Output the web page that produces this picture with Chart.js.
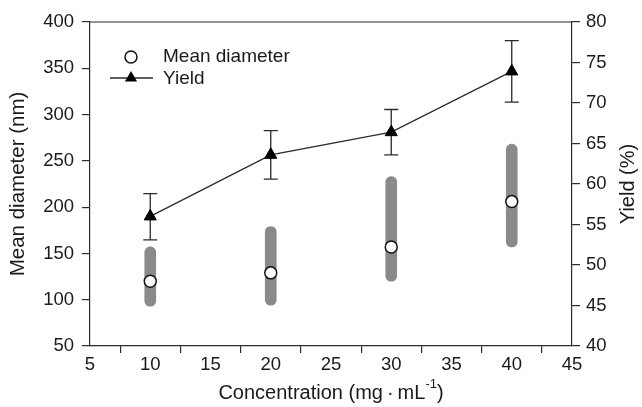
<!DOCTYPE html>
<html>
<head>
<meta charset="utf-8">
<script src="https://cdn.jsdelivr.net/npm/chart.js@4/dist/chart.umd.min.js"></script>
<style>
  html, body { margin: 0; padding: 0; background: #fff; }
  #wrap { width: 642px; height: 407px; position: relative; }
</style>
</head>
<body>
<div id="wrap"><canvas id="chart"></canvas></div>
<script>
// concentration (mg/mL) and the two measured series
const concentration = [10, 20, 30, 40];
const meanDiameter = [120, 129, 157, 206];
const diameterLow = [93, 94, 120, 157];
const diameterHigh = [157, 179, 233, 268];
const yieldPct = [56.0, 63.6, 66.4, 73.9];
const yieldLow = [53.1, 60.6, 63.6, 70.1];
const yieldHigh = [58.8, 66.6, 69.2, 77.7];

const xRange = [5, 45];
const diameterRange = [50, 400];
const yieldRange = [40, 80];

const FONT = '"Liberation Sans", Arial, sans-serif';
const INK = '#1a1a1a';
const AXIS = '#2b2b2b';

// black error bars with caps for the yield series + frame top + titles + legend
const extras = {
  id: 'extras',
  beforeDatasetsDraw(chart) {
    const ctx = chart.ctx;
    const xs = chart.scales.x, ys = chart.scales.y1;
    ctx.save();
    ctx.strokeStyle = AXIS;
    ctx.lineWidth = 1.3;
    concentration.forEach((c, i) => {
      const px = xs.getPixelForValue(c);
      const top = ys.getPixelForValue(yieldHigh[i]);
      const bot = ys.getPixelForValue(yieldLow[i]);
      ctx.beginPath();
      ctx.moveTo(px, top); ctx.lineTo(px, bot);
      ctx.moveTo(px - 7, top); ctx.lineTo(px + 7, top);
      ctx.moveTo(px - 7, bot); ctx.lineTo(px + 7, bot);
      ctx.stroke();
    });
    ctx.restore();
  },
  afterDraw(chart) {
    const ctx = chart.ctx;
    const a = chart.chartArea;
    ctx.save();
    // top frame line
    ctx.strokeStyle = AXIS;
    ctx.lineWidth = 1.2;
    ctx.beginPath();
    ctx.moveTo(a.left, a.top); ctx.lineTo(a.right, a.top);
    ctx.stroke();

    ctx.fillStyle = INK;
    ctx.textBaseline = 'middle';

    // right axis title, reads bottom to top
    ctx.save();
    ctx.font = '20px ' + FONT;
    ctx.translate(628, (a.top + a.bottom) / 2);
    ctx.rotate(-Math.PI / 2);
    ctx.textAlign = 'center';
    ctx.fillText('Yield (%)', 0, 0);
    ctx.restore();

    // x axis title with superscript
    const main = 'Concentration (mg\u2009\u00b7\u2009mL';
    const sup = '-1';
    const tail = ')';
    ctx.font = '20px ' + FONT;
    const w1 = ctx.measureText(main).width;
    const w3 = ctx.measureText(tail).width;
    ctx.font = '13px ' + FONT;
    const w2 = ctx.measureText(sup).width;
    const x0 = (a.left + a.right) / 2 - (w1 + w2 + w3) / 2;
    const ty = 393;
    ctx.textAlign = 'left';
    ctx.font = '20px ' + FONT;
    ctx.fillText(main, x0, ty);
    ctx.font = '13px ' + FONT;
    ctx.fillText(sup, x0 + w1, ty - 9);
    ctx.font = '20px ' + FONT;
    ctx.fillText(tail, x0 + w1 + w2, ty);

    // legend
    ctx.font = '19px ' + FONT;
    ctx.fillText('Mean diameter', 163, 57);
    ctx.fillText('Yield', 163, 79);
    ctx.beginPath();
    ctx.arc(131, 57, 6, 0, Math.PI * 2);
    ctx.fillStyle = '#fff';
    ctx.fill();
    ctx.strokeStyle = '#111';
    ctx.lineWidth = 1.5;
    ctx.stroke();
    ctx.strokeStyle = AXIS;
    ctx.lineWidth = 1.3;
    ctx.beginPath();
    ctx.moveTo(110, 78); ctx.lineTo(153, 78);
    ctx.stroke();
    const r = 7;
    ctx.beginPath();
    ctx.moveTo(131, 78 - r);
    ctx.lineTo(131 + 0.866 * r, 78 + 0.5 * r);
    ctx.lineTo(131 - 0.866 * r, 78 + 0.5 * r);
    ctx.closePath();
    ctx.fillStyle = '#000';
    ctx.fill();
    ctx.restore();
  }
};

const tickFont = { family: FONT, size: 18.5 };

new Chart(document.getElementById('chart'), {
  type: 'line',
  data: {
    datasets: [
      {
        label: 'Yield',
        type: 'line',
        yAxisID: 'y1',
        data: concentration.map((c, i) => ({ x: c, y: yieldPct[i] })),
        borderColor: AXIS,
        borderWidth: 1.3,
        pointStyle: 'triangle',
        pointRadius: 7,
        pointBackgroundColor: '#000',
        pointBorderColor: '#000',
        pointBorderWidth: 1,
        order: 1
      },
      {
        label: 'Mean diameter',
        type: 'line',
        yAxisID: 'y',
        showLine: false,
        data: concentration.map((c, i) => ({ x: c, y: meanDiameter[i] })),
        pointStyle: 'circle',
        pointRadius: 6,
        pointBackgroundColor: '#fff',
        pointBorderColor: '#111',
        pointBorderWidth: 1.5,
        order: 0
      },
      {
        label: 'Range',
        type: 'bar',
        yAxisID: 'y',
        data: concentration.map((c, i) => ({ x: c, y: [diameterLow[i], diameterHigh[i]] })),
        backgroundColor: '#8a8a8a',
        barThickness: 11,
        borderRadius: 5.5,
        borderSkipped: false,
        order: 5
      }
    ]
  },
  options: {
    responsive: true,
    maintainAspectRatio: false,
    animation: false,
    layout: { padding: { top: 22, left: 0, right: 0, bottom: 0 } },
    plugins: { legend: { display: false }, tooltip: { enabled: false } },
    scales: {
      x: {
        type: 'linear',
        offset: false,
        min: xRange[0], max: xRange[1],
        ticks: { stepSize: 5, color: INK, font: tickFont, padding: 1, maxRotation: 0 },
        grid: { drawOnChartArea: false, tickLength: 7, color: AXIS, lineWidth: 1.2 },
        border: { color: AXIS, width: 1.2 },
        afterFit(s) { s.height = 61; }
      },
      y: {
        position: 'left',
        min: diameterRange[0], max: diameterRange[1],
        ticks: { stepSize: 50, color: INK, font: tickFont, padding: 8 },
        grid: { drawOnChartArea: false, tickLength: 8, color: AXIS, lineWidth: 1.2 },
        border: { color: AXIS, width: 1.2 },
        title: { display: true, text: 'Mean diameter (nm)', color: INK, font: { family: FONT, size: 20.5 }, padding: { top: 6, bottom: 0 } },
        afterFit(s) { s.width = 90; }
      },
      y1: {
        position: 'right',
        min: yieldRange[0], max: yieldRange[1],
        ticks: { stepSize: 5, color: INK, font: tickFont, padding: 6 },
        grid: { drawOnChartArea: false, tickLength: 8, color: AXIS, lineWidth: 1.2 },
        border: { color: AXIS, width: 1.2 },
        afterFit(s) { s.width = 70; }
      }
    }
  },
  plugins: [extras]
});
</script>
</body>
</html>
